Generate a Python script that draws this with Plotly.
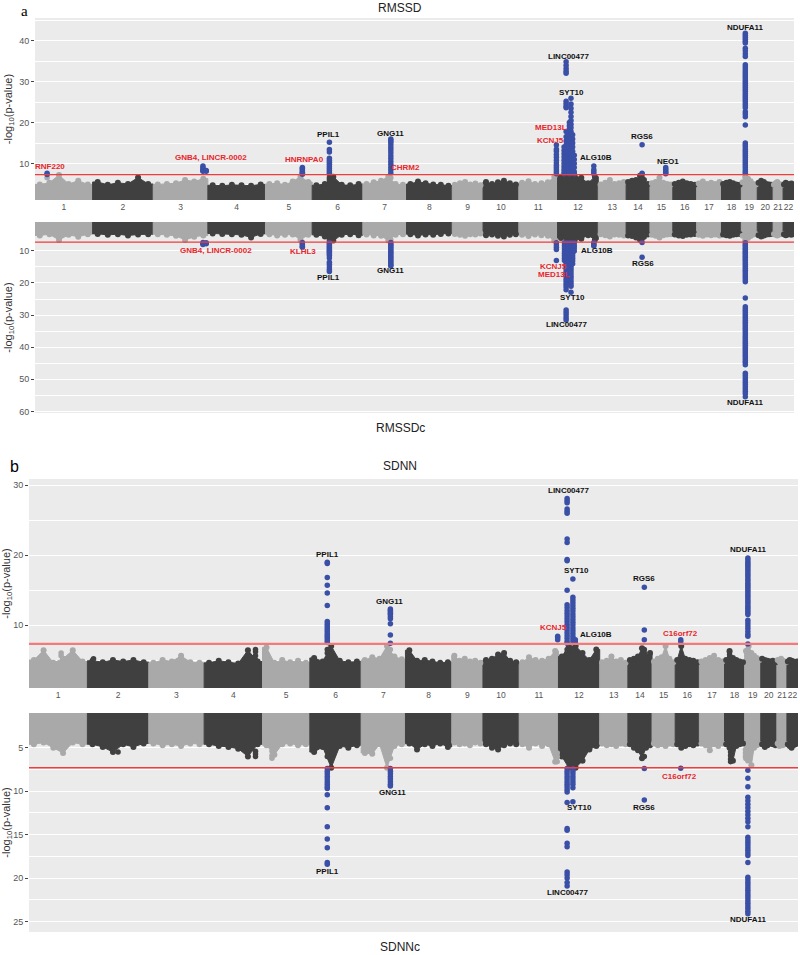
import numpy as np
import plotly.graph_objects as go

chromosomes = [str(i) for i in range(1, 23)]
# chromosome widths as they appear along the x axis (arbitrary genome units)
chrom_span = [58, 61, 55, 58, 47, 51, 44, 46, 31, 36, 39, 41, 28, 24, 23, 24, 25, 20, 16, 16, 10, 11]

threshold = 7.3  # genome-wide significance, -log10(5e-8)

# background "skyline": six top heights per chromosome, left to right
rmssd_ridge = [
    [4.9, 5.3, 7.2, 5.0, 5.8, 4.9], [5.5, 4.8, 5.3, 5.0, 6.6, 5.0], [4.9, 5.0, 5.2, 6.0, 5.6, 6.3],
    [4.7, 4.6, 4.8, 4.7, 4.6, 4.9], [5.0, 5.2, 4.8, 5.6, 6.8, 5.5], [4.7, 5.0, 6.8, 4.8, 4.7, 5.0],
    [5.0, 5.4, 5.8, 6.8, 5.0, 4.8], [5.0, 5.6, 5.2, 4.9, 4.8, 4.6], [4.8, 5.2, 5.5, 4.9, 5.1, 4.7],
    [5.5, 5.0, 5.4, 5.8, 5.2, 4.9], [5.3, 5.7, 5.0, 5.2, 5.4, 6.8], [6.8, 7.0, 7.0, 6.5, 5.2, 6.8],
    [4.9, 5.3, 6.0, 5.0, 5.2, 5.5], [5.5, 5.8, 6.0, 7.0, 6.0, 5.0], [5.2, 5.5, 6.5, 5.3, 5.0, 4.9],
    [5.0, 5.3, 5.6, 5.2, 5.0, 4.8], [5.1, 5.6, 5.0, 5.3, 5.0, 5.5], [5.0, 5.3, 5.5, 5.2, 4.9, 4.8],
    [5.4, 6.8, 6.3, 5.7, 5.0, 4.9], [5.3, 5.8, 5.5, 5.0, 4.9, 4.8], [4.8, 5.2, 5.5, 5.0, 4.9, 4.8],
    [4.9, 5.3, 5.0, 4.8, 5.1, 4.9]]
rmssdc_ridge = [
    [5.2, 4.8, 6.6, 5.0, 5.6, 4.8], [4.7, 5.0, 4.8, 5.2, 4.9, 4.8], [4.8, 5.0, 5.3, 6.6, 5.6, 5.2],
    [4.6, 4.7, 4.8, 5.0, 5.8, 4.7], [4.8, 5.2, 5.0, 4.9, 6.5, 5.0], [5.0, 5.5, 6.8, 5.0, 4.8, 5.1],
    [4.9, 5.2, 5.3, 6.8, 5.0, 4.8], [4.8, 5.2, 4.9, 5.0, 4.7, 4.6], [4.7, 5.0, 5.3, 4.8, 4.9, 4.6],
    [5.1, 4.9, 5.3, 5.5, 5.0, 4.8], [5.0, 5.4, 4.9, 5.1, 5.3, 6.8], [6.0, 6.8, 6.8, 6.2, 5.1, 6.5],
    [4.8, 5.1, 5.5, 4.9, 5.0, 5.2], [5.2, 5.4, 5.8, 6.5, 5.6, 4.9], [5.0, 5.3, 5.8, 5.1, 4.9, 4.8],
    [4.9, 5.2, 5.4, 5.0, 4.9, 4.7], [5.0, 5.3, 4.9, 5.1, 4.9, 5.2], [4.9, 5.1, 5.3, 5.0, 4.8, 4.7],
    [5.3, 6.8, 6.0, 5.4, 4.9, 4.8], [5.1, 5.5, 5.2, 4.9, 4.8, 4.7], [4.7, 5.0, 5.2, 4.9, 4.8, 4.7],
    [4.8, 5.1, 4.9, 4.7, 5.0, 4.8]]
sdnn_ridge = [
    [5.0, 6.4, 4.6, 5.2, 6.4, 4.8], [4.9, 4.7, 5.0, 4.8, 5.0, 4.7], [4.6, 5.0, 4.8, 5.6, 4.7, 4.6],
    [4.6, 4.9, 4.7, 4.5, 6.4, 4.8], [6.8, 4.6, 5.0, 4.7, 4.9, 4.6], [5.3, 4.8, 7.0, 4.9, 4.7, 4.8],
    [5.0, 5.4, 5.2, 7.0, 5.5, 5.1], [6.4, 4.9, 5.0, 4.8, 4.6, 4.7], [5.6, 4.9, 5.2, 4.8, 4.9, 4.6],
    [5.0, 5.2, 5.8, 6.0, 4.9, 4.7], [4.7, 5.4, 5.0, 4.9, 5.2, 6.3], [5.5, 7.0, 7.0, 6.0, 5.0, 6.5],
    [4.7, 4.9, 5.5, 4.8, 5.0, 4.6], [5.0, 5.2, 5.5, 6.7, 5.5, 6.0], [4.8, 5.2, 5.4, 7.0, 5.2, 4.7],
    [5.0, 7.0, 5.2, 5.0, 4.9, 4.7], [4.8, 5.0, 5.3, 5.6, 5.0, 4.8], [5.0, 6.3, 5.3, 5.0, 4.8, 4.7],
    [6.3, 7.0, 6.0, 5.6, 5.3, 5.0], [5.2, 5.0, 4.9, 4.8, 4.9, 4.7], [5.0, 4.8, 5.2, 4.9, 4.8, 4.7],
    [4.8, 5.0, 4.9, 4.8, 4.7, 4.8]]
sdnnc_ridge = [
    [4.6, 4.4, 5.0, 5.6, 4.4, 4.6], [4.6, 4.9, 5.5, 4.6, 4.9, 4.5], [4.5, 4.7, 4.6, 4.8, 4.5, 4.6],
    [4.6, 4.8, 4.9, 5.1, 6.0, 4.6], [4.7, 5.8, 4.6, 4.5, 4.7, 4.6], [5.5, 4.9, 7.3, 4.8, 5.0, 4.7],
    [5.6, 5.7, 4.6, 7.3, 4.8, 4.6], [4.5, 5.2, 4.6, 4.8, 4.5, 4.9], [4.4, 4.6, 4.5, 4.7, 4.4, 4.5],
    [4.6, 5.0, 5.2, 4.7, 4.5, 4.6], [4.6, 5.0, 4.5, 4.8, 4.6, 6.6], [6.0, 7.3, 7.3, 6.5, 5.2, 4.8],
    [4.5, 4.7, 4.6, 4.8, 4.5, 4.6], [4.6, 5.0, 5.3, 6.2, 5.0, 4.7], [4.5, 4.7, 4.6, 4.8, 4.5, 4.6],
    [4.6, 5.0, 4.8, 4.6, 4.7, 4.5], [4.5, 4.7, 5.3, 4.6, 4.8, 4.5], [4.6, 5.0, 6.5, 4.8, 4.6, 4.5],
    [6.2, 5.8, 7.0, 5.0, 4.7, 4.6], [4.6, 4.9, 4.7, 4.5, 4.6, 4.7], [4.5, 4.8, 4.6, 4.7, 4.5, 4.6],
    [4.6, 4.8, 5.0, 4.7, 4.6, 4.5]]

# point columns: (chromosome, relative position within chromosome, -log10(p) values)
rmssd_hits = [
    (1, 0.21, [6.5, 7.3, 7.6]),
    (3, 0.91, [9.4, 9.0, 8.6, 8.3, 8.1]),
    (3, 0.97, [8.3, 8.1]),
    (5, 0.79, [9.0, 8.8, 8.5, 8.2, 7.9, 7.6, 7.4]),
    (6, 0.34, [15.2, 13.4, 12.8, 11.3, 10.8, 10.3, 9.8, 9.3, 8.8, 8.3, 7.8, 7.4, 6.5, 6.0]),
    (7, 0.64, [16.0, 15.6, 15.2, 14.6, 13.9, 13.3, 12.6, 11.9, 11.2, 10.5, 9.8, 9.1, 8.4, 7.7, 6.5]),
    (11, 0.97, [14.5, 13.5, 13.0, 12.2, 11.5, 10.8, 10.1, 9.6, 9.0, 8.5, 8.0, 7.5]),
    (12, 0.16, [14.0, 13.2, 12.4, 11.6, 10.8, 10.0, 9.3, 8.6, 8.0, 7.5]),
    (12, 0.21, [34.8, 34.0, 33.2, 32.5, 32.0, 25.2, 24.6, 24.0, 23.6, 17.8, 16.5, 15.5, 14.5, 13.5,
                12.5, 11.5, 10.5, 9.5, 8.5, 7.8]),
    (12, 0.25, [17.0, 16.0, 15.0, 14.2, 13.4, 12.6, 11.8, 11.0, 10.2, 9.4, 8.6, 7.8]),
    (12, 0.29, [20.0, 19.2, 18.4, 17.6, 16.8, 16.0, 15.2, 14.4, 13.6, 12.8, 12.0, 11.2, 10.4, 9.6,
                8.8, 8.0, 7.5]),
    (12, 0.33, [25.9, 24.5, 23.5, 22.5, 21.5, 20.5, 19.6, 18.7, 17.8, 16.9, 16.0, 15.1, 14.2, 13.3,
                12.4, 11.5, 10.6, 9.7, 8.8, 7.9]),
    (12, 0.37, [17.0, 16.0, 15.0, 14.0, 13.0, 12.0, 11.0, 10.0, 9.0, 8.0]),
    (12, 0.41, [12.0, 11.0, 10.0, 9.0, 8.0, 7.5]),
    (12, 0.89, [9.4, 8.5, 8.0, 7.5]),
    (14, 0.67, [14.6, 7.6, 7.3, 6.5, 6.2]),
    (15, 0.69, [9.0, 8.6, 8.2, 7.8, 7.5]),
    (19, 0.25, [41.8, 41.3, 40.8, 40.3, 39.8, 39.4, 38.1, 37.5, 36.8, 36.1, 34.1, 33.6, 33.1, 32.6,
                32.1, 31.6, 31.1, 30.6, 30.1, 29.6, 29.1, 28.6, 28.1, 27.6, 27.1, 26.6, 26.1, 25.6,
                25.1, 24.6, 24.1, 23.6, 22.6, 22.1, 21.4, 19.4, 15.0, 14.5, 14.0, 13.5, 13.0, 12.5,
                12.0, 11.5, 11.0, 10.5, 10.0, 9.5, 9.0, 8.5, 8.0, 7.6, 6.5]),
]
rmssdc_hits = [
    (3, 0.91, [7.4, 7.7, 8.0]),
    (3, 0.97, [7.5, 7.8]),
    (5, 0.79, [7.4, 7.8, 8.2, 8.6, 8.9]),
    (6, 0.34, [6.0, 6.6, 7.4, 7.8, 8.2, 8.6, 9.0, 9.4, 9.8, 10.2, 10.6, 11.0, 11.4, 12.2, 13.5, 14.2,
               15.0, 15.8, 16.4]),
    (7, 0.64, [6.5, 7.4, 7.9, 8.4, 8.9, 9.4, 9.9, 10.4, 10.9, 11.4, 11.9, 12.4, 12.9, 13.4, 13.9,
               14.4, 14.7]),
    (11, 0.97, [7.5, 8.2, 8.9, 9.6, 13.0]),
    (12, 0.17, [7.5, 8.3, 9.1, 9.9, 10.7, 11.5, 12.3, 13.0]),
    (12, 0.21, [7.6, 8.4, 9.2, 10.0, 10.8, 11.6, 12.4, 13.2, 14.0, 14.8, 15.6, 16.4, 17.2, 18.0,
                18.8, 19.6, 20.4, 21.2, 22.1, 28.4, 29.2, 30.0, 30.8, 31.5]),
    (12, 0.25, [7.5, 8.3, 9.1, 9.9, 10.7, 11.5, 12.3, 13.1, 13.9, 14.7, 15.5, 16.3, 17.1, 18.0]),
    (12, 0.29, [7.5, 8.3, 9.1, 9.9, 10.7, 11.5, 12.3, 13.1, 13.9, 14.7, 15.5, 16.3, 17.1, 17.9,
                18.7, 19.5, 20.2]),
    (12, 0.33, [7.5, 8.3, 9.1, 9.9, 10.7, 11.5, 12.3, 13.1, 13.9, 14.7, 15.5, 16.3, 17.1, 17.9,
                18.7, 19.5, 20.3, 21.0, 22.9]),
    (12, 0.37, [7.5, 8.3, 9.1, 9.9, 10.7, 11.5, 12.3, 13.1, 14.0]),
    (12, 0.41, [7.5, 8.3, 9.1, 10.0]),
    (12, 0.89, [7.4, 7.8, 8.2, 8.5]),
    (14, 0.67, [6.2, 7.4, 12.0]),
    (19, 0.25, [6.8, 7.5, 8.0, 8.5, 9.0, 9.5, 10.0, 10.5, 11.0, 11.5, 12.0, 12.5, 13.0, 13.6, 14.2,
                14.8, 15.4, 16.0, 16.6, 17.2, 17.8, 18.4, 19.0, 19.6, 24.7, 27.4, 28.0, 28.6, 29.2,
                29.8, 30.4, 31.0, 31.6, 32.2, 32.8, 33.4, 34.0, 34.6, 35.2, 35.8, 36.4, 37.0, 37.6,
                38.2, 38.8, 39.4, 40.0, 40.6, 41.2, 41.8, 42.4, 43.0, 43.6, 44.2, 44.8, 45.5, 48.1,
                48.8, 49.5, 50.2, 50.9, 51.6, 52.3, 53.0, 53.7, 54.4, 55.4]),
]
sdnn_hits = [
    (1, 0.55, [5.6, 6.0]),
    (2, 0.1, [5.2]),
    (4, 0.88, [5.0, 5.6, 6.2, 6.5]),
    (6, 0.34, [19.0, 18.8, 16.8, 15.7, 14.6, 12.8, 10.5, 10.2, 9.9, 9.6, 9.3, 9.0, 8.7, 8.4, 8.1,
               7.8, 7.5, 6.5, 6.0]),
    (7, 0.66, [12.3, 12.1, 11.9, 11.7, 11.5, 11.2, 10.9, 10.2, 8.6, 7.4, 6.5]),
    (11, 0.98, [8.4, 8.2, 7.9]),
    (12, 0.21, [28.1, 27.8, 27.5, 26.6, 26.3, 26.0, 22.3, 21.8, 19.4, 19.2, 15.0, 12.9, 12.5, 12.1,
                11.7, 11.3, 10.9, 10.5, 10.1, 9.7, 9.3, 8.9, 8.5, 8.1, 7.7, 7.4, 6.5, 6.0]),
    (12, 0.35, [16.6, 14.0, 13.6, 13.2, 12.8, 12.4, 12.0, 11.6, 11.2, 10.8, 10.4, 10.0, 9.6, 9.2,
                8.8, 8.4, 8.0, 7.6, 6.5, 5.8]),
    (12, 0.41, [7.9, 7.5]),
    (14, 0.68, [15.4, 9.3, 7.9, 6.5, 6.0]),
    (16, 0.23, [7.9, 7.6]),
    (18, 0.25, [5.8, 6.2]),
    (19, 0.2, [19.6, 19.3, 19.0, 18.7, 18.4, 18.1, 17.8, 17.5, 17.2, 16.9, 16.6, 16.3, 16.0, 15.7,
               15.4, 15.1, 14.8, 14.5, 14.2, 13.9, 13.6, 13.3, 13.0, 12.7, 12.4, 12.1, 11.8, 11.5,
               10.7, 10.3, 9.9, 9.5, 9.1, 8.7, 8.4, 7.3, 6.5]),
]
sdnnc_hits = [
    (2, 0.5, [5.5]),
    (4, 0.88, [5.4, 5.7, 6.0]),
    (5, 0.2, [5.4, 5.9, 6.2]),
    (6, 0.34, [6.0, 7.4, 7.7, 8.0, 8.3, 8.6, 8.9, 9.2, 9.5, 9.7, 10.4, 11.9, 14.1, 15.5, 16.5, 18.2,
               18.4]),
    (7, 0.66, [6.2, 7.4, 7.7, 8.0, 8.3, 8.6, 8.9, 9.2, 9.4]),
    (11, 0.97, [5.6, 6.0, 6.6]),
    (12, 0.21, [7.4, 7.7, 8.0, 8.3, 8.6, 8.9, 9.2, 9.5, 9.8, 10.1, 11.3, 14.3, 14.5, 16.0, 16.4,
                19.3, 19.6, 20.0, 20.5, 20.9]),
    (12, 0.35, [7.4, 7.7, 8.0, 8.3, 8.6, 8.9, 9.2, 9.6, 11.2]),
    (14, 0.68, [6.0, 7.4, 11.0]),
    (16, 0.23, [7.35]),
    (18, 0.3, [5.5, 5.9, 6.3, 6.6]),
    (19, 0.05, [5.2, 5.6, 6.0]),
    (19, 0.2, [6.5, 7.6, 8.5, 9.5, 10.7, 11.1, 11.5, 11.9, 12.3, 12.7, 13.1, 13.5, 14.1, 15.3, 15.6,
               15.9, 16.2, 16.5, 16.8, 17.1, 17.4, 18.2, 19.9, 20.2, 20.5, 20.8, 21.1, 21.4, 21.7,
               22.0, 22.3, 22.6, 22.9, 23.2, 23.5, 23.8, 24.1]),
]

# gene labels: (text, chromosome, relative position, height, novel locus?)
rmssd_labels = [
    ("RNF220", 1, 0.26, 9.2, True), ("GNB4, LINCR-0002", 3, 1.05, 11.4, True),
    ("HNRNPA0", 5, 0.83, 11.1, True), ("PPIL1", 6, 0.33, 17.0, False),
    ("GNG11", 7, 0.64, 17.2, False), ("CHRM2", 7, 0.97, 9.0, True),
    ("LINC00477", 12, 0.26, 36.0, False), ("SYT10", 12, 0.34, 27.3, False),
    ("MED13L", 11, 0.83, 18.9, True), ("KCNJ5", 11, 0.83, 15.5, True),
    ("ALG10B", 12, 0.95, 11.4, False), ("RGS6", 14, 0.66, 16.5, False),
    ("NEO1", 15, 0.8, 10.4, False), ("NDUFA11", 19, 0.28, 43.1, False)]
rmssdc_labels = [
    ("GNB4, LINCR-0002", 3, 1.14, 10.0, True), ("KLHL3", 5, 0.81, 10.2, True),
    ("PPIL1", 6, 0.33, 18.2, False), ("GNG11", 7, 0.64, 16.2, False),
    ("KCNJ5", 11, 0.89, 14.9, True), ("MED13L", 11, 0.92, 17.5, True),
    ("SYT10", 12, 0.37, 24.5, False), ("LINC00477", 12, 0.22, 33.0, False),
    ("ALG10B", 12, 0.98, 10.0, False), ("RGS6", 14, 0.7, 14.0, False),
    ("NDUFA11", 19, 0.28, 57.3, False)]
sdnn_labels = [
    ("PPIL1", 6, 0.34, 20.1, False), ("GNG11", 7, 0.65, 13.4, False),
    ("LINC00477", 12, 0.24, 29.2, False), ("SYT10", 12, 0.44, 17.8, False),
    ("KCNJ5", 11, 0.88, 9.6, True), ("ALG10B", 12, 0.91, 8.6, False),
    ("RGS6", 14, 0.66, 16.6, False), ("C16orf72", 16, 0.23, 8.8, True),
    ("NDUFA11", 19, 0.22, 20.8, False)]
sdnnc_labels = [
    ("PPIL1", 6, 0.34, 19.2, False), ("GNG11", 7, 0.7, 10.2, False),
    ("LINC00477", 12, 0.23, 21.7, False), ("SYT10", 12, 0.5, 11.9, False),
    ("RGS6", 14, 0.66, 11.9, False), ("C16orf72", 16, 0.18, 8.35, True),
    ("NDUFA11", 19, 0.25, 24.8, False)]

LIGHT, DARK, BLUE = "#a9a9a9", "#404040", "#3a4fa6"
LABEL_RED = "#e8262b"
FONT = "Liberation Sans, Arial, sans-serif"

starts = np.concatenate([[0], np.cumsum(chrom_span)[:-1]])
total = float(np.sum(chrom_span))
centers = starts + np.array(chrom_span) / 2


def gpos(chrom, rel):
    return starts[chrom - 1] + rel * chrom_span[chrom - 1]


def chrom_color(chrom):
    return LIGHT if chrom % 2 == 1 else DARK


W, H = 800, 955


def px_x(px):
    return px / W


def px_y(py):
    return 1 - py / H


fig = go.Figure()

# panel settings: x extent and y extent in page pixels
panels = [
    dict(ridge=rmssd_ridge, hits=rmssd_hits, labels=rmssd_labels, flip=False,
         xd=(35, 794), yd=(18, 200), yr=(1.1, 45.5), tv=[10, 20, 30, 40], minor=5,
         line=dict(color="#f03c3c", width=1.2)),
    dict(ridge=rmssdc_ridge, hits=rmssdc_hits, labels=rmssdc_labels, flip=True,
         xd=(35, 794), yd=(222, 413), yr=(1.0, 60.5), tv=[10, 20, 30, 40, 50, 60], minor=5,
         line=dict(color="#f03c3c", width=1.2)),
    dict(ridge=sdnn_ridge, hits=sdnn_hits, labels=sdnn_labels, flip=False,
         xd=(29, 798), yd=(479, 688), yr=(1.0, 30.9), tv=[10, 20, 30], minor=5,
         line=dict(color="#f37a7a", width=2.2)),
    dict(ridge=sdnnc_ridge, hits=sdnnc_hits, labels=sdnnc_labels, flip=True,
         xd=(29, 798), yd=(713, 932), yr=(1.0, 26.2), tv=[5, 10, 15, 20, 25], minor=2.5,
         line=dict(color="#f03c3c", width=1.5)),
]

annotations = []
for i, p in enumerate(panels, start=1):
    sfx = "" if i == 1 else str(i)
    xa, ya = "x" + sfx, "y" + sfx

    # chromosome skyline
    mx, my, mc = [], [], []
    for c in range(22):
        s, w, h = starts[c], chrom_span[c], p["ridge"][c]
        col = chrom_color(c + 1)
        xs = s + (np.arange(len(h)) + 0.5) / len(h) * w
        fig.add_trace(go.Scatter(
            x=[s, s] + list(xs) + [s + w, s + w], y=[0, h[0]] + list(h) + [h[-1], 0],
            fill="toself", fillcolor=col, mode="lines", line=dict(color=col, width=1),
            hoverinfo="skip", showlegend=False, xaxis=xa, yaxis=ya))
        mx += list(xs)
        my += list(h)
        mc += [col] * len(h)
    fig.add_trace(go.Scatter(x=mx, y=my, mode="markers", marker=dict(color=mc, size=6),
                             hoverinfo="skip", showlegend=False, xaxis=xa, yaxis=ya))

    # SNP columns
    hx, hy, hc = [], [], []
    for chrom, rel, vals in p["hits"]:
        for v in vals:
            hx.append(gpos(chrom, rel))
            hy.append(v)
            hc.append(BLUE if v >= threshold else chrom_color(chrom))
    fig.add_trace(go.Scatter(x=hx, y=hy, mode="markers", marker=dict(color=hc, size=5.5),
                             showlegend=False, xaxis=xa, yaxis=ya))

    # significance line
    fig.add_shape(type="line", xref=xa, yref=ya, x0=0, x1=total, y0=threshold, y1=threshold,
                  line=p["line"], layer="above")

    for text, chrom, rel, yv, novel in p["labels"]:
        annotations.append(dict(
            x=gpos(chrom, rel), y=yv, xref=xa, yref=ya, text="<b>%s</b>" % text,
            showarrow=False, font=dict(family=FONT, size=8,
                                       color=LABEL_RED if novel else "#111111")))

    yr = [p["yr"][1], p["yr"][0]] if p["flip"] else list(p["yr"])
    fig.layout["xaxis" + sfx] = dict(
        domain=[px_x(p["xd"][0]), px_x(p["xd"][1])], range=[0, total], anchor=ya,
        showgrid=False, zeroline=False, ticks="", showline=False, tickangle=0,
        tickvals=list(centers), ticktext=chromosomes, showticklabels=not p["flip"],
        tickfont=dict(family=FONT, size=8.5, color="#555555"), automargin=False)
    fig.layout["yaxis" + sfx] = dict(
        domain=[px_y(p["yd"][1]), px_y(p["yd"][0])], range=yr, anchor=xa,
        tickvals=p["tv"], ticks="outside", ticklen=3, tickcolor="#444444",
        tickfont=dict(family=FONT, size=9, color="#555555"),
        showgrid=True, gridcolor="white", gridwidth=1.2, zeroline=False, showline=False,
        minor=dict(dtick=p["minor"], tick0=0, showgrid=True, gridcolor="white", gridwidth=0.6),
        title=dict(text="-log<sub>10</sub>(p-value)", standoff=4,
                   font=dict(family=FONT, size=11, color="#333333")),
        automargin=False)

# panel letters and trait titles
for text, px, py, size, fam in [("a", 24, 11, 15, "Liberation Serif, serif"),
                                ("b", 14, 466, 16, FONT)]:
    annotations.append(dict(x=px_x(px), y=px_y(py), xref="paper", yref="paper", text=text,
                            xanchor="center", yanchor="middle", showarrow=False,
                            font=dict(family=fam, size=size, color="black")))
for text, py in [("RMSSD", 8), ("RMSSDc", 428), ("SDNN", 466), ("SDNNc", 947)]:
    annotations.append(dict(x=px_x(400), y=px_y(py), xref="paper", yref="paper", text=text,
                            xanchor="center", yanchor="middle", showarrow=False,
                            font=dict(family=FONT, size=12, color="#222222")))

fig.update_layout(
    width=W, height=H, margin=dict(l=0, r=0, t=0, b=0),
    paper_bgcolor="white", plot_bgcolor="#ebebeb",
    annotations=annotations, showlegend=False,
)

# drop the browser's default page margin so the figure fills the window exactly
fig.write_html("out.html", config={"displayModeBar": False},
               post_script="document.body.style.margin = '0';")
